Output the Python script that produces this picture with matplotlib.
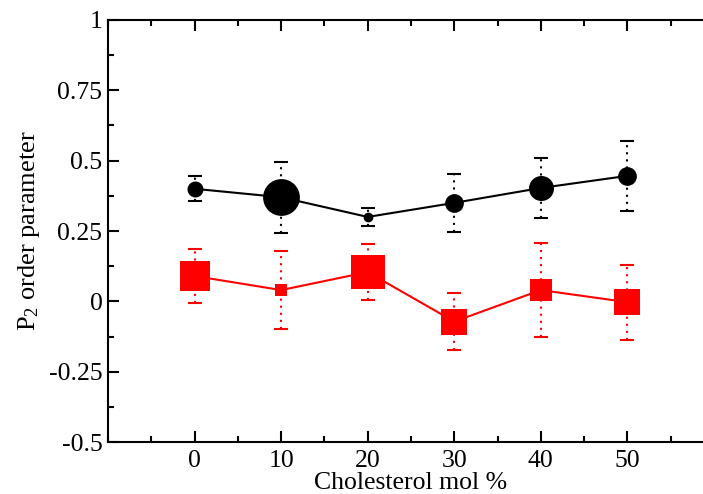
import numpy as np
import matplotlib
matplotlib.use("Agg")
import matplotlib.pyplot as plt
from matplotlib.ticker import MultipleLocator

# data
chol = [0, 10, 20, 30, 40, 50]

p2_black = [0.40, 0.37, 0.30, 0.35, 0.403, 0.446]
err_black = [0.045, 0.127, 0.032, 0.104, 0.107, 0.125]
size_black = [11.5, 26.5, 7.0, 13.5, 18.0, 13.5]   # marker diameters (pt)

p2_red = [0.09, 0.04, 0.104, -0.072, 0.04, -0.003]
err_red = [0.095, 0.14, 0.10, 0.10, 0.168, 0.133]
size_red = [21.0, 8.0, 24.5, 19.0, 15.5, 19.0]      # marker side lengths (pt)

plt.rcParams['font.family'] = ['Liberation Serif', 'DejaVu Serif']
plt.rcParams['mathtext.fontset'] = 'custom'
plt.rcParams['mathtext.rm'] = 'Liberation Serif'
plt.rcParams['mathtext.it'] = 'Liberation Serif:italic'

fig = plt.figure(figsize=(7.03, 4.94), dpi=100)
ax = fig.add_axes([108 / 703, 52 / 494, 606 / 703, 422 / 494])


def draw_series(y, err, sizes, color, marker):
    eb = ax.errorbar(chol, y, yerr=err, fmt='none', ecolor=color, elinewidth=1.5,
                     capsize=4.7, capthick=1.5, zorder=2)
    eb[2][0].set_linestyle((0, (1, 2.4)))
    ax.plot(chol, y, '-', color=color, lw=1.5, zorder=3)
    for xi, yi, s in zip(chol, y, sizes):
        ax.plot(xi, yi, marker=marker, ms=s, color=color, mec=color, mew=0, zorder=4)


draw_series(p2_black, err_black, size_black, 'black', 'o')
draw_series(p2_red, err_red, size_red, 'red', 's')

ax.set_xlim(-10, 60)
ax.set_ylim(-0.5, 1)
ax.set_xticks(chol)
ax.xaxis.set_minor_locator(MultipleLocator(5))
ax.set_yticks([-0.5, -0.25, 0, 0.25, 0.5, 0.75, 1])
ax.set_yticklabels(['-0.5', '-0.25', '0', '0.25', '0.5', '0.75', '1'])
ax.yaxis.set_minor_locator(MultipleLocator(0.125))

ax.tick_params(which='both', direction='in', top=True, right=True, width=1.5,
               labelsize=18.5, colors='black')
ax.tick_params(which='major', length=8)
ax.tick_params(which='minor', length=4.5)
ax.tick_params(axis='x', pad=6)
ax.tick_params(axis='y', pad=4)
for sp in ax.spines.values():
    sp.set_linewidth(1.5)

ax.set_xlabel('Cholesterol mol %', fontsize=18.5, labelpad=0)
ax.set_ylabel(r'P$_2$ order parameter', fontsize=19, labelpad=5)

fig.savefig('out.png', dpi=100)
